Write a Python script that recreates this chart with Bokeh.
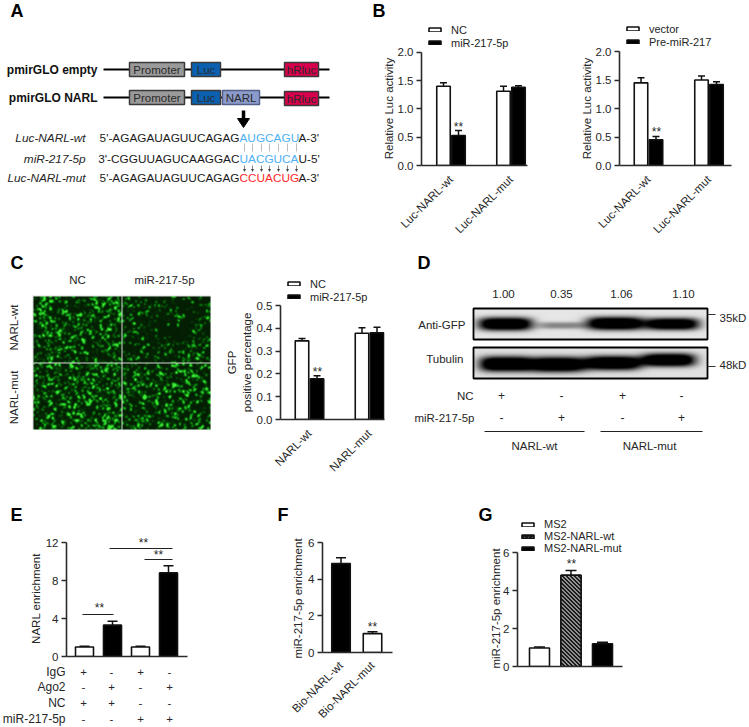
import math
import numpy as np
from bokeh.plotting import figure
from bokeh.layouts import column
from bokeh.embed import file_html
from bokeh.resources import INLINE
from bokeh.models import (Range1d, Label, FixedTicker, NumeralTickFormatter, Legend, LegendItem,
                          LinearColorMapper)

FONT = "Liberation Sans"
INK = "#262626"

# ---------- data ----------
b_groups = ["Luc-NARL-wt", "Luc-NARL-mut"]
b1_nc = [1.40, 1.31]
b1_nc_top = [1.46, 1.40]
b1_mir = [0.53, 1.38]
b1_mir_top = [0.62, 1.41]
b2_vec = [1.45, 1.50]
b2_vec_top = [1.54, 1.57]
b2_pre = [0.45, 1.42]
b2_pre_top = [0.51, 1.47]
b_ticks = [0.0, 0.5, 1.0, 1.5, 2.0]

c_groups = ["NARL-wt", "NARL-mut"]
c_nc = [0.345, 0.378]
c_nc_top = [0.355, 0.402]
c_mir = [0.178, 0.380]
c_mir_top = [0.192, 0.405]
c_ticks = [0.0, 0.1, 0.2, 0.3, 0.4, 0.5]

d_ratio = ["1.00", "0.35", "1.06", "1.10"]
d_nc = ["+", "-", "+", "-"]
d_mir = ["-", "+", "-", "+"]
d_gfp_density = [1.0, 0.30, 1.0, 0.95]
d_tub_density = [1.0, 1.0, 1.0, 1.0]

e_vals = [1.0, 3.3, 1.0, 8.8]
e_tops = [1.08, 3.7, 1.08, 9.55]
e_ticks = [0, 4, 8, 12]
e_rows = ["IgG", "Ago2", "NC", "miR-217-5p"]
e_signs = [["+", "-", "+", "-"], ["-", "+", "-", "+"], ["+", "+", "-", "-"], ["-", "-", "+", "+"]]

f_groups = ["Bio-NARL-wt", "Bio-NARL-mut"]
f_vals = [4.85, 1.03]
f_tops = [5.17, 1.13]
fg_ticks = [0, 2, 4, 6]

g_groups = ["MS2", "MS2-NARL-wt", "MS2-NARL-mut"]
g_vals = [0.97, 4.80, 1.20]
g_tops = [1.02, 5.05, 1.27]

# ---------- the page sheet: everything that is no chart frame lies on it, in page pixels ----------
S = figure(width=749, height=727, x_range=Range1d(0, 749), y_range=Range1d(727, 0), output_backend="svg",
           toolbar_location=None, frame_align=False, outline_line_color=None, min_border_left=0,
           min_border_right=0, min_border_top=0, min_border_bottom=0)
S.grid.visible = False
S.xaxis.visible = False
S.yaxis.visible = False


def chart(L, R, T, B, fl, fr, ft, fb, c0, g, ymax, ticks, fmt, xlabels=None, frame_top=None, frame_right=None,
          standoff=12):
    # the frame may reach above/right of the axes, so that the legend lies inside it
    frame_top = ft if frame_top is None else frame_top
    frame_right = fr if frame_right is None else frame_right
    p = figure(width=R - L, height=B - T, output_backend="svg", toolbar_location=None, frame_align=False,
               outline_line_color=None, background_fill_alpha=0, border_fill_alpha=0,
               x_range=Range1d((fl - c0) / g, (frame_right - c0) / g),
               y_range=Range1d(0, ymax * (fb - frame_top) / (fb - ft)),
               min_border_left=fl - L, min_border_right=R - frame_right,
               min_border_top=frame_top - T, min_border_bottom=B - fb,
               styles={"position": "absolute", "left": f"{L}px", "top": f"{T}px"})
    p.grid.visible = False
    ya = p.yaxis[0]
    ya.bounds = (0, ymax)
    ya.ticker = FixedTicker(ticks=ticks)
    ya.formatter = NumeralTickFormatter(format=fmt)
    ya.axis_line_width = 1.6
    ya.axis_line_color = "#2b2b2b"
    ya.major_tick_line_width = 1.5
    ya.major_tick_line_color = "#2b2b2b"
    ya.major_tick_in = 0
    ya.major_tick_out = 5
    ya.minor_tick_line_color = None
    ya.major_label_text_font = FONT
    ya.major_label_text_font_size = "11.5px"
    ya.major_label_text_color = INK
    ya.major_label_standoff = 3
    xa = p.xaxis[0]
    xa.bounds = ((fl - c0) / g, (fr - c0) / g)
    xa.axis_line_width = 1.6
    xa.axis_line_color = "#2b2b2b"
    xa.major_tick_line_color = None
    xa.minor_tick_line_color = None
    xa.major_tick_out = 0
    xa.major_tick_in = 0
    if xlabels:
        xa.ticker = FixedTicker(ticks=list(range(len(xlabels))))
        xa.major_label_overrides = {i: s for i, s in enumerate(xlabels)}
        xa.major_label_orientation = math.pi / 4
        xa.major_label_text_font = FONT
        xa.major_label_text_font_size = "11.5px"
        xa.major_label_text_color = INK
        xa.major_label_standoff = standoff
    else:
        xa.ticker = FixedTicker(ticks=[])
        xa.major_label_text_font_size = "0px"
    return p


def T(x, y, text, size=11, align="left", color=INK, angle=0, style="normal"):
    S.add_layout(Label(x=x, y=y, text=text, text_font=FONT, text_font_size=f"{size}px", text_color=color,
                       text_align=align, text_baseline="middle", angle=angle, text_font_style=style))


def bars(p, xs, vals, tops, w, cap, fill="white", **kw):
    r = p.vbar(x=xs, top=vals, bottom=0, width=w, fill_color=fill, line_color="#111111", line_width=1.6, **kw)
    p.segment(x0=xs, x1=xs, y0=vals, y1=tops, line_color="#111111", line_width=1.5)
    p.segment(x0=[x - cap for x in xs], x1=[x + cap for x in xs], y0=tops, y1=tops, line_color="#111111", line_width=1.5)
    return r


def legend(p, items, dx, dy, gw=15, gh=5, row_h=13, size=11, standoff=9):
    leg = Legend(items=[LegendItem(label=s, renderers=[r]) for s, r in items], location=(dx, dy),
                 padding=0, margin=0, spacing=0, background_fill_alpha=0, border_line_color=None,
                 glyph_width=gw, glyph_height=gh, label_height=row_h, label_standoff=standoff,
                 label_text_font=FONT, label_text_font_size=f"{size}px", label_text_color=INK)
    p.add_layout(leg, "center")


UP = math.pi / 2

# ---------- panel A ----------
T(10, 10, "A", 18, style="bold", color="black")
for y, name in [(69, "pmirGLO empty"), (97, "pmirGLO NARL")]:
    T(97, y, name, 12, "right", "#111111", style="bold")
    S.segment(x0=[103], x1=[329], y0=[y], y1=[y], line_color="black", line_width=2)
box_x0 = [129, 191, 284]
box_x1 = [184, 220, 318]
box_fill = ["#9a9a9a", "#0b60b0", "#d8004c"]
box_text = ["Promoter", "Luc", "hRluc"]
for yc in (69, 97):
    for x0, x1, c, s in zip(box_x0, box_x1, box_fill, box_text):
        off = 1 if (s == "hRluc" and yc == 97) else 0
        S.quad(left=[x0], right=[x1], top=[yc - 7 + off], bottom=[yc + 7 + off], fill_color=c,
               line_color="#3a3a3a", line_width=1.5)
        T((x0 + x1) / 2, yc + off, s, 11.5, "center", "#2a2a2a")
S.quad(left=[222], right=[259], top=[90], bottom=[104], fill_color="#8b9bcb", line_color="#55608a", line_width=1.5)
T(240.5, 97, "NARL", 11.5, "center", "#2a2a2a")
S.segment(x0=[243], x1=[243], y0=[110], y1=[120], line_color="black", line_width=3.5)
S.patch(x=[237, 249, 243], y=[118, 118, 127], fill_color="black", line_color="black")

seq_rows = [
    (137, "Luc-NARL-wt", "5'-AGAGAUAGUUCAGAG", "AUGCAGU", "A-3'", "#4db0f5"),
    (158, "miR-217-5p", "3'-CGGUUAGUCAAGGAC", "UACGUCA", "U-5'", "#4db0f5"),
    (177, "Luc-NARL-mut", "5'-AGAGAUAGUUCAGAG", "CCUACUG", "A-3'", "#ff2a2a"),
]
for y, name, a, b, c, col in seq_rows:
    T(85, y, name, 11.8, "right", INK, style="italic")
    T(239, y, a, 11.8, "right", "#1a1a1a")
    T(239, y, b, 11.8, "left", col)
    T(298, y, c, 11.8, "left", "#1a1a1a")
pair_x = [244, 252, 261, 269, 278, 287, 296]
S.segment(x0=pair_x, x1=pair_x, y0=[143] * 7, y1=[151] * 7, line_color="#bdbdbd", line_width=1)
S.segment(x0=pair_x, x1=pair_x, y0=[165] * 7, y1=[170] * 7, line_color="#555555", line_width=0.7)
for x in pair_x:
    S.patch(x=[x - 1.5, x + 1.5, x], y=[168.5, 168.5, 171.5], fill_color="#444444", line_color=None)

# ---------- panel B ----------
w = 13.5
B1 = chart(370, 560, 0, 242, 421, 527, 52, 166, 450.5, 60, 2.0, b_ticks, "0.0", b_groups, frame_top=12)
dx = 7.5 / 60
r1 = bars(B1, [i - dx for i in range(2)], b1_nc, b1_nc_top, w / 60, 3.5 / 60)
r2 = bars(B1, [i + dx for i in range(2)], b1_mir, b1_mir_top, w / 60, 3.5 / 60, fill="black")
legend(B1, [("NC", r1), ("miR-217-5p", r2)], 6, 116)
T(372, 10, "B", 18, style="bold", color="black")
T(458, 126, "**", 12, "center")
T(388, 108, "Relative Luc activity", 11.5, "center", angle=UP)

B2 = chart(560, 749, 0, 242, 619, 731, 51, 165, 648, 60.5, 2.0, b_ticks, "0.0", b_groups, frame_top=12)
dx = 7.5 / 60.5
r1 = bars(B2, [i - dx for i in range(2)], b2_vec, b2_vec_top, w / 60.5, 3.5 / 60.5)
r2 = bars(B2, [i + dx for i in range(2)], b2_pre, b2_pre_top, w / 60.5, 3.5 / 60.5, fill="black")
legend(B2, [("vector", r1), ("Pre-miR-217", r2)], 6, 117)
T(656, 131, "**", 12, "center")
T(586, 108, "Relative Luc activity", 11.5, "center", angle=UP)


# ---------- panel C micrographs: a procedural texture standing in for the photographs ----------
def speckle(W, H, seed, share):
    yy, xx = np.mgrid[0:H, 0:W].astype(float)
    n = np.sin((xx + seed) * 12.9898 + (yy + seed * 3.1) * 78.233) * 43758.5453
    n = n - np.floor(n)
    box = lambda a: sum(np.roll(np.roll(a, i, 0), j, 1) for i in (-1, 0, 1) for j in (-1, 0, 1)) / 9.0
    n = (n + np.roll(n, 1, 0) + np.roll(n, 1, 1) + np.roll(np.roll(n, 1, 0), 1, 1)) / 4.0
    cut = np.quantile(n, 1 - share)
    dots = np.clip((n - cut) / (0.8 * n.std()), 0, 1)
    soft = box(dots)
    return np.clip(0.4 * dots + 1.4 * soft, 0, 1)


green = []
for i in range(256):
    t = i / 255
    green.append("#%02x%02x%02x" % (int(4 + 60 * t ** 3), int(30 + 205 * t), int(4 + 50 * t ** 2)))
mapper = LinearColorMapper(palette=green, low=0, high=1)

tiles = [(33, 296, 88, 66, 1.0, 0.20), (122, 296, 88, 66, 2.0, 0.11),
         (33, 363, 88, 66, 3.0, 0.22), (122, 363, 88, 66, 4.0, 0.19)]
S.quad(left=[32], right=[210], top=[295], bottom=[429], fill_color="#d8d8d8", line_color=None)
for x, y, W, H, seed, share in tiles:
    S.image(image=[speckle(W, H, seed, share)], x=x, y=y, dw=W, dh=H, color_mapper=mapper)
T(10, 262, "C", 18, style="bold", color="black")
T(77, 279, "NC", 11.5, "center")
T(164, 279, "miR-217-5p", 11.5, "center")
T(13, 327, "NARL-wt", 11.5, "center", angle=UP)
T(13, 397, "NARL-mut", 11.5, "center", angle=UP)

# ---------- panel C chart ----------
Cc = chart(222, 400, 242, 490, 280, 384, 305, 419, 309, 60, 0.5, c_ticks, "0.0", c_groups, frame_top=272)
dx = 7.5 / 60
r1 = bars(Cc, [i - dx for i in range(2)], c_nc, c_nc_top, w / 60, 3.5 / 60)
r2 = bars(Cc, [i + dx for i in range(2)], c_mir, c_mir_top, w / 60, 3.5 / 60, fill="black")
legend(Cc, [("NC", r1), ("miR-217-5p", r2)], 6, 116)
T(231, 362, "GFP", 11.5, "center", angle=UP)
T(246, 362, "positive percentage", 11.5, "center", angle=UP)
T(317, 371, "**", 12, "center")

# ---------- panel D ----------
T(417, 262, "D", 18, style="bold", color="black")


def blot(x0, x1, y0, y1, centers, half_w, half_h, density, bg):
    xx, yy = np.meshgrid(np.arange(x0, x1) + 0.5, np.arange(y0, y1) + 0.5)
    a = np.full(xx.shape, bg, dtype=float)
    for (cx, cy), hw, hh, d in zip(centers, half_w, half_h, density):
        a += d * 1.3 * np.exp(-np.abs((xx - cx) / hw) ** 4) * np.exp(-np.abs((yy - cy) / hh) ** 2.6)
    return np.clip(a, 0, 1)


grey = ["#%02x%02x%02x" % (255 - i, 255 - i, 255 - i) for i in range(256)]
gmap = LinearColorMapper(palette=grey, low=0, high=1)
S.image(image=[blot(473, 707, 308, 339, [(505, 323.5), (561, 325), (615, 323), (672, 323.5)],
                    [27, 24, 29, 27], [6.5, 3.5, 6.5, 6], d_gfp_density, 0.10)],
        x=473, y=308, dw=234, dh=31, color_mapper=gmap)
S.image(image=[blot(473, 707, 347, 378, [(504, 363.5), (556, 364), (613, 362.5), (668, 359.5)],
                    [25, 30, 28, 27], [7.5, 7.5, 7, 6.5], d_tub_density, 0.12)],
        x=473, y=347, dw=234, dh=31, color_mapper=gmap)
S.quad(left=[473, 473], right=[707, 707], top=[308, 347], bottom=[339, 378], fill_color=None,
       line_color="black", line_width=1.8)
S.segment(x0=[707, 707], x1=[715, 715], y0=[314, 366], y1=[314, 366], line_color="#333333", line_width=1)
for x, s in zip([503, 561, 621, 683], d_ratio):
    T(x, 293, s, 11.5, "center")
T(465, 324, "Anti-GFP", 11.5, "right")
T(463, 358, "Tubulin", 11.5, "right")
T(719, 317, "35kD", 11.5)
T(719, 364, "48kD", 11.5)
T(473, 395, "NC", 11.5, "right")
T(474, 417, "miR-217-5p", 11.5, "right")
for x, a, b in zip([501, 561, 622, 681], d_nc, d_mir):
    T(x, 395, a, 12, "center")
    T(x, 417, b, 12, "center")
S.segment(x0=[484, 600], x1=[584, 702], y0=[431, 431], y1=[431, 431], line_color="#222222", line_width=1.2)
T(534, 445, "NARL-wt", 11.5, "center")
T(649, 445, "NARL-mut", 11.5, "center")

# ---------- panel E ----------
E = chart(36, 260, 490, 727, 66, 187, 542, 656, 84, 28, 12, e_ticks, "0")
bars(E, [0, 2], [e_vals[0], e_vals[2]], [e_tops[0], e_tops[2]], 18 / 28, 5 / 28)
bars(E, [1, 3], [e_vals[1], e_vals[3]], [e_tops[1], e_tops[3]], 18 / 28, 5 / 28, fill="black")
T(10, 514, "E", 18, style="bold", color="black")
T(35, 598, "NARL enrichment", 11.5, "center", angle=UP)
S.segment(x0=[82, 109, 144], x1=[113, 172, 172], y0=[614, 548, 559], y1=[614, 548, 559], line_color="#222222",
          line_width=1.1)
T(99, 607, "**", 12, "center")
T(143, 542, "**", 12, "center")
T(158, 554, "**", 12, "center")
for y, name, signs in zip([671, 686, 702, 718], e_rows, e_signs):
    T(65, y, name, 12, "right")
    for x, s in zip([83, 111, 140, 169], signs):
        T(x, y, s, 11.5, "center")

# ---------- panel F ----------
F = chart(260, 470, 490, 727, 322, 392, 542, 655, 340.5, 31.5, 6, fg_ticks, "0", f_groups, standoff=11)
bars(F, [0], f_vals[:1], f_tops[:1], 18.5 / 31.5, 5 / 31.5, fill="black")
bars(F, [1], f_vals[1:], f_tops[1:], 18.5 / 31.5, 5 / 31.5)
T(277, 514, "F", 18, style="bold", color="black")
T(372, 626, "**", 12, "center")
T(297, 598, "miR-217-5p enrichment", 11.5, "center", angle=UP)

# ---------- panel G ----------
G = chart(470, 749, 490, 727, 517, 622, 552, 666, 539, 31.5, 6, fg_ticks, "0", frame_top=512, frame_right=700)
g_w = 20 / 31.5
r1 = bars(G, [0], g_vals[:1], g_tops[:1], g_w, 5.5 / 31.5)
# the bar's own hatch serves the legend swatch; the bar itself then gets its stripes as clipped segments
r2 = bars(G, [1], g_vals[1:2], g_tops[1:2], g_w, 5.5 / 31.5, fill="#d0d0d0", hatch_pattern="left_diagonal_line",
          hatch_color="#1a1a1a", hatch_scale=4, hatch_weight=2)
G.vbar(x=[1], top=g_vals[1:2], bottom=0, width=g_w, fill_color="#d4d4d4", line_color=None)
bar_px_w, bar_px_h = 20.0, g_vals[1] * 114 / 6
hx0, hx1, hy0, hy1 = [], [], [], []
for c in np.arange(-bar_px_h, bar_px_w, 4.0):
    t0, t1 = max(0.0, -c), min(bar_px_h, bar_px_w - c)
    hx0.append(1 - g_w / 2 + (c + t0) / 31.5)
    hx1.append(1 - g_w / 2 + (c + t1) / 31.5)
    hy0.append(g_vals[1] - t0 * 6 / 114)
    hy1.append(g_vals[1] - t1 * 6 / 114)
G.segment(x0=hx0, x1=hx1, y0=hy0, y1=hy1, line_color="#1a1a1a", line_width=1.8)
G.vbar(x=[1], top=g_vals[1:2], bottom=0, width=g_w, fill_color=None, line_color="#111111", line_width=1.6)
r3 = bars(G, [2], g_vals[2:], g_tops[2:], g_w, 5.5 / 31.5, fill="black")
legend(G, [("MS2", r1), ("MS2-NARL-wt", r2), ("MS2-NARL-mut", r3)], 3, 112, row_h=12)
T(478, 514, "G", 18, style="bold", color="black")
T(571, 563, "**", 12, "center")
T(495, 608, "miR-217-5p enrichment", 11.5, "center", angle=UP)

page = column(S, B1, B2, Cc, E, F, G, styles={"position": "absolute", "left": "0px", "top": "0px"})
open("out.html", "w").write(file_html(page, INLINE))
